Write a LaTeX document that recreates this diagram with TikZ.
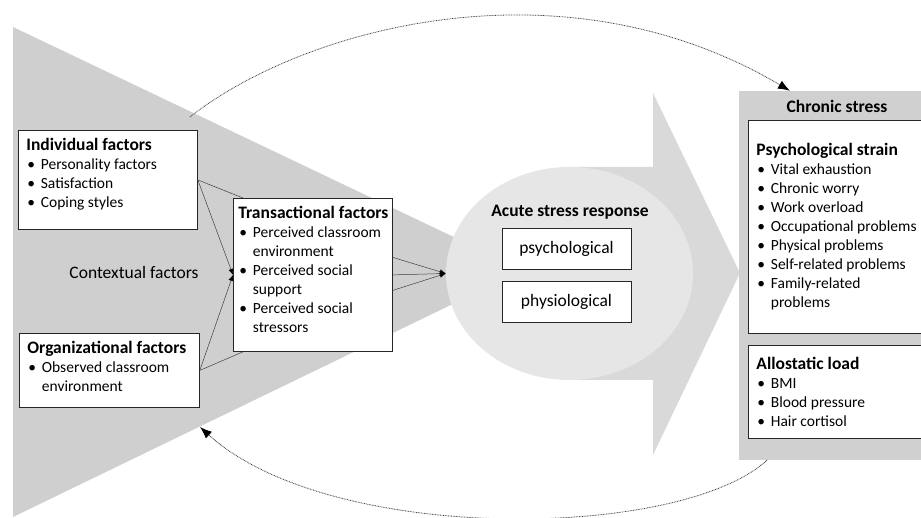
\documentclass[tikz,border=0pt]{standalone}
\usepackage{fontspec}
\setmainfont{Carlito}
\definecolor{Tricol}{HTML}{D0CFCF}
\definecolor{Arrowcol}{HTML}{D9D9D9}
\definecolor{Respcol}{HTML}{E6E6E6}
\definecolor{Chroncol}{HTML}{D0D0D0}
\usetikzlibrary{arrows.meta, shapes.geometric, positioning}
\newcommand{\bodysize}{\fontsize{15.5}{19}\selectfont}
\newcommand{\bigsize}{\fontsize{17.5}{21}\selectfont}
\newcommand{\headtxt}[1]{\mbox{\bigsize\bfseries #1}}
\newcommand{\bul}{\makebox[14.5pt][l]{\hspace{1pt}\textbullet}}
\newcommand{\cont}{\hspace*{14.5pt}}
\tikzset{
    >=Latex,
    factorbox/.style={draw=black!85, fill=white, line width=0.8pt, anchor=north west, inner xsep=8pt, inner ysep=8pt},
    responsebox/.style={draw=black!85, fill=white, line width=0.8pt, minimum width=129pt, minimum height=41pt, font=\bigsize},
    fanline/.style={draw=black!75, line width=0.5pt},
    fanarrow/.style={fanline, -{Latex[length=6pt,width=5pt,black]}},
    loopline/.style={draw=black!75, line width=0.8pt, dash pattern=on 0.8pt off 0.8pt, -{Latex[length=12pt,width=9pt,black]}}
}

\begin{document}
\begin{tikzpicture}[x=1pt, y=-1pt, font=\bodysize]
    \useasboundingbox (0,0) rectangle (921,518);
    \clip (0,0) rectangle (921,518);

    % Background shapes
    \fill[Tricol] (13,27) -- (523,270) -- (13,517) -- cycle;
    \fill[Arrowcol] (570,167) -- (653,167) -- (653,93) -- (740,273) -- (653,455) -- (653,380) -- (570,380) -- cycle;
    \node[ellipse, fill=Respcol, minimum width=247pt, minimum height=213pt, inner sep=0pt] (response) at (569.5,273.5) {};

    % Chronic stress panel
    \node[fill=Chroncol, minimum width=196pt, minimum height=369pt, inner sep=0pt] (chronic) at (837,275.5) {};
    \node[font=\bigsize\bfseries] (chronichead) at (837,106) {Chronic stress};
    \node[factorbox] (strain) at (748,120) {\parbox[t][197pt][c]{162pt}{\headtxt{Psychological strain}\\
        \bul Vital exhaustion\\ \bul Chronic worry\\ \bul Work overload\\ \bul Occupational problems\\
        \bul Physical problems\\ \bul Self-related problems\\ \bul Family-related\\ \cont problems}};
    \node[factorbox] (allostatic) at (748,345) {\parbox[t][77pt][c]{162pt}{\headtxt{Allostatic load}\\
        \bul BMI\\ \bul Blood pressure\\ \bul Hair cortisol}};

    % Factor boxes
    \node[factorbox] (indiv) at (18,130) {\parbox[t][83pt][t]{163pt}{\headtxt{Individual factors}\\
        \bul Personality factors\\ \bul Satisfaction\\ \bul Coping styles}};
    \node[factorbox] (org) at (19,333) {\parbox[t][58pt][t]{164pt}{\headtxt{Organizational factors}\\
        \bul Observed classroom\\ \cont environment}};
    \node[factorbox, inner xsep=5pt] (trans) at (233,198) {\parbox[t][137pt][t]{149pt}{\headtxt{Transactional factors}\\
        \bul Perceived classroom\\ \cont environment\\ \bul Perceived social\\ \cont support\\
        \bul Perceived social\\ \cont stressors}};
    \node[font=\bigsize] (context) at (134,272) {Contextual factors};

    % Acute stress response
    \node[font=\bigsize\bfseries] (acutehead) at (570,212) {Acute stress response};
    \node[responsebox] (psych) at (566.5,248.5) {psychological};
    \node[responsebox, below=12pt of psych] (physio) {physiological};

    % Connectors
    \draw[fanline] (indiv.east) -- ([xshift=10pt]trans.north west);
    \draw[fanarrow] (indiv.east) -- (trans.west);
    \draw[fanline] (org.east) -- ([xshift=10pt]trans.south west);
    \draw[fanarrow] (org.east) -- (trans.west);
    \draw[fanarrow] ([yshift=17.5pt]trans.east) -- (response.west);
    \draw[fanarrow] (trans.east) -- (response.west);
    \draw[fanarrow] ([yshift=-15.5pt]trans.east) -- (response.west);

    % Feedback loops
    \coordinate (loopstart) at (190,117);
    \coordinate (loopend) at (200,427);
    \draw[loopline] (loopstart) .. controls (300,30) and (560,-45) .. ([xshift=-47pt]chronic.north);
    \draw[loopline] ([xshift=-70pt]chronic.south) .. controls (680,540) and (330,545) .. (loopend);
\end{tikzpicture}
\end{document}
